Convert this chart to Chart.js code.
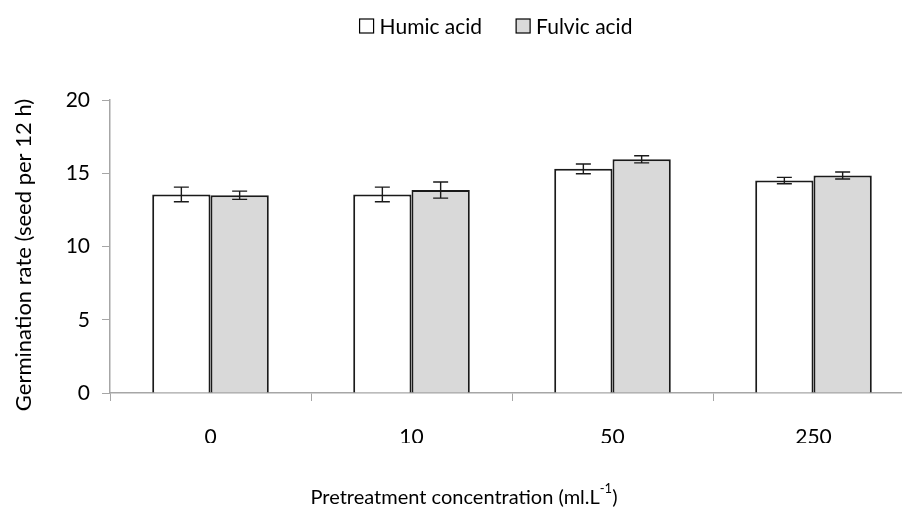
<!DOCTYPE html>
<html>
<head>
<meta charset="utf-8">
<script src="https://cdn.jsdelivr.net/npm/chart.js@4.4.1/dist/chart.umd.min.js"></script>
<style>
  html, body { margin: 0; padding: 0; background: #fff; }
  #wrap { width: 902px; height: 510px; overflow: hidden; position: relative; }
  #box { width: 914px; height: 510px; }
</style>
</head>
<body>
<div id="wrap"><div id="box"><canvas id="chart"></canvas></div></div>
<script>
// data
const categories = ['0', '10', '50', '250'];
const humicValues = [13.55, 13.55, 15.3, 14.5];
const humicErrors = [0.5, 0.5, 0.33, 0.22];
const fulvicValues = [13.5, 13.85, 15.95, 14.85];
const fulvicErrors = [0.28, 0.55, 0.24, 0.24];
const yTicks = [0, 5, 10, 15, 20];

const FONT = 'Lato, Calibri, sans-serif';
const AXIS_GREY = '#a6a6a6';

// error bars drawn through the y scale
const errorBars = {
    id: 'errorBars',
    afterDatasetsDraw(chart) {
        const ctx = chart.ctx;
        const y = chart.scales.y;
        chart.data.datasets.forEach((ds, i) => {
            const meta = chart.getDatasetMeta(i);
            meta.data.forEach((bar, j) => {
                const v = ds.data[j], e = ds.errors[j];
                const top = y.getPixelForValue(v + e);
                const bot = y.getPixelForValue(v - e);
                ctx.save();
                ctx.strokeStyle = '#1a1a1a';
                ctx.lineWidth = 1.4;
                ctx.beginPath();
                ctx.moveTo(bar.x, top); ctx.lineTo(bar.x, bot);
                ctx.moveTo(bar.x - 7.5, top); ctx.lineTo(bar.x + 7.5, top);
                ctx.moveTo(bar.x - 7.5, bot); ctx.lineTo(bar.x + 7.5, bot);
                ctx.stroke();
                ctx.restore();
            });
        });
    }
};

// legend and axis titles (x title needs a superscript)
const labelsPlugin = {
    id: 'labelsPlugin',
    afterDraw(chart) {
        const ctx = chart.ctx;
        ctx.save();
        ctx.fillStyle = '#000';
        ctx.font = '21px ' + FONT;
        ctx.textBaseline = 'middle';

        // legend
        const items = chart.data.datasets.map(d => ({ text: d.label, fill: d.backgroundColor }));
        const box = 14, gapBox = 6, gapItem = 34;
        let total = 0;
        items.forEach((it, k) => {
            it.w = ctx.measureText(it.text).width;
            total += box + gapBox + it.w + (k ? gapItem : 0);
        });
        let lx = 496 - total / 2;
        const ly = 26;
        items.forEach((it, k) => {
            if (k) lx += gapItem;
            ctx.fillStyle = it.fill;
            ctx.fillRect(lx, ly - box / 2, box, box);
            ctx.strokeStyle = '#000';
            ctx.lineWidth = 1.2;
            ctx.strokeRect(lx, ly - box / 2, box, box);
            ctx.fillStyle = '#000';
            ctx.textAlign = 'left';
            ctx.fillText(it.text, lx + box + gapBox, ly + 1);
            lx += box + gapBox + it.w;
        });

        // x title
        const main = 'Pretreatment concentration (ml.L';
        const sup = '-1';
        const tail = ')';
        ctx.font = '20px ' + FONT;
        const wMain = ctx.measureText(main).width;
        const wTail = ctx.measureText(tail).width;
        ctx.font = '13px ' + FONT;
        const wSup = ctx.measureText(sup).width;
        let tx = 464 - (wMain + wSup + wTail) / 2;
        const ty = 497;
        ctx.textAlign = 'left';
        ctx.textBaseline = 'alphabetic';
        ctx.font = '20px ' + FONT;
        ctx.fillText(main, tx, ty + 7);
        tx += wMain;
        ctx.font = '13px ' + FONT;
        ctx.fillText(sup, tx, ty - 4);
        tx += wSup;
        ctx.font = '20px ' + FONT;
        ctx.fillText(tail, tx, ty + 7);

        // y title
        ctx.font = '22px ' + FONT;
        ctx.translate(24, 255);
        ctx.rotate(-Math.PI / 2);
        ctx.textAlign = 'center';
        ctx.textBaseline = 'middle';
        ctx.fillText('Germination rate (seed per 12 h)', 0, 0);
        ctx.restore();
    }
};

new Chart(document.getElementById('chart'), {
    type: 'bar',
    data: {
        labels: categories,
        datasets: [
            {
                label: 'Humic acid',
                data: humicValues,
                errors: humicErrors,
                backgroundColor: '#ffffff',
                borderColor: '#1a1a1a',
                borderWidth: 2,
                categoryPercentage: 0.58,
                barPercentage: 1.0
            },
            {
                label: 'Fulvic acid',
                data: fulvicValues,
                errors: fulvicErrors,
                backgroundColor: '#d9d9d9',
                borderColor: '#1a1a1a',
                borderWidth: 2,
                categoryPercentage: 0.58,
                barPercentage: 1.0
            }
        ]
    },
    options: {
        responsive: true,
        maintainAspectRatio: false,
        animation: false,
        layout: { padding: { top: 100, bottom: 67, left: 0, right: 0 } },
        plugins: {
            legend: { display: false },
            tooltip: { enabled: false }
        },
        scales: {
            x: {
                afterFit(scale) { scale.height = 50; },
                grid: {
                    offset: true,
                    drawOnChartArea: false,
                    drawTicks: true,
                    tickLength: 8,
                    color: AXIS_GREY
                },
                border: { color: AXIS_GREY, width: 1.5 },
                ticks: {
                    color: '#000',
                    font: { family: FONT, size: 21 },
                    padding: 24
                }
            },
            y: {
                min: 0,
                max: 20,
                afterFit(scale) { scale.width = 110; },
                afterBuildTicks(scale) { scale.ticks = yTicks.map(v => ({ value: v })); },
                grid: {
                    drawOnChartArea: false,
                    drawTicks: true,
                    tickLength: 8,
                    color: AXIS_GREY
                },
                border: { color: AXIS_GREY, width: 1.5 },
                ticks: {
                    color: '#000',
                    font: { family: FONT, size: 21 },
                    padding: 12
                }
            }
        }
    },
    plugins: [errorBars, labelsPlugin]
});
</script>
</body>
</html>
